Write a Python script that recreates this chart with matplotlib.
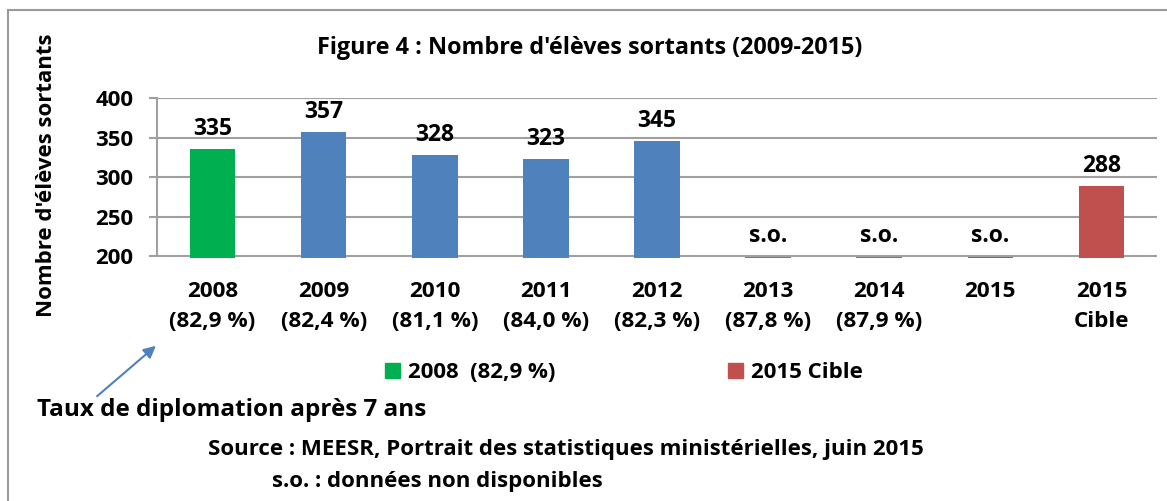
import matplotlib
matplotlib.use('Agg')
import matplotlib.pyplot as plt
from matplotlib.patches import Patch, Rectangle, FancyArrowPatch

# chart data
categories = ['2008\n(82,9 %)', '2009\n(82,4 %)', '2010\n(81,1 %)', '2011\n(84,0 %)',
              '2012\n(82,3 %)', '2013\n(87,8 %)', '2014\n(87,9 %)', '2015', '2015\nCible']
values = [335, 357, 328, 323, 345, 199, 199, 199, 288]
value_labels = ['335', '357', '328', '323', '345', 's.o.', 's.o.', 's.o.', '288']
legend_labels = ['2008  (82,9 %)', '2015 Cible']

green = '#00B050'
blue = '#4F81BD'
red = '#C0504D'
bar_colors = [green, blue, blue, blue, blue, blue, blue, red, red]

plt.rcParams['font.family'] = ['Open Sans', 'DejaVu Sans']
plt.rcParams['font.weight'] = 'bold'

W, H = 1167, 501
fig = plt.figure(figsize=(W / 100, H / 100), dpi=100)


def px(x, y):
    return x / W, 1 - y / H


# outer frame of the chart
fig.patches.append(Rectangle(px(8, 520), 1.2, (520 - 10) / H, transform=fig.transFigure,
                             fill=False, edgecolor='#9A9A9A', linewidth=1.5))

ax = fig.add_axes([157 / W, (H - 258.4) / H, 1000 / W, (258.4 - 98) / H])
x = list(range(len(categories)))
ax.bar(x, values, width=0.41, color=bar_colors, zorder=3)
ax.set_xlim(-0.5, len(categories) - 0.5)
ax.set_ylim(197, 400)

# value labels
for xi, v, lab in zip(x, values, value_labels):
    ax.annotate(lab, (xi, max(v, 200)), xytext=(0, 6), textcoords='offset points',
                ha='center', va='bottom', fontsize=16.5, fontweight='bold', zorder=4)

# grid and axes
for yv in [200, 250, 300, 350, 400]:
    ax.axhline(yv, color='#A0A0A0', linewidth=1.5, zorder=2)
for s in ['top', 'right', 'bottom']:
    ax.spines[s].set_visible(False)
ax.spines['left'].set_bounds(200, 400)
ax.spines['left'].set_color('#A0A0A0')
ax.spines['left'].set_linewidth(1.5)
ax.set_yticks([200, 250, 300, 350, 400])
ax.tick_params(axis='y', length=6, color='#A0A0A0', width=1.5, labelsize=16, pad=11)
ax.set_xticks(x)
ax.set_xticklabels(categories, fontsize=16.2, fontweight='bold', linespacing=1.6)
ax.tick_params(axis='x', length=0, pad=16)

ax.set_ylabel("Nombre d'élèves sortants", fontsize=16, fontweight='bold')
ax.yaxis.set_label_coords(-0.1, 0.52)

fig.text(*px(590, 48), "Figure 4 : Nombre d'élèves sortants (2009-2015)",
         ha='center', va='center', fontsize=16.8, fontweight='bold')

# legend
handles = [Patch(color=green), Patch(color=red)]
fig.legend(handles, legend_labels, loc='center', bbox_to_anchor=px(624, 373), ncol=2,
           frameon=False, fontsize=16, handlelength=0.65, handleheight=0.65,
           handletextpad=0.36, columnspacing=7.8)

# annotation arrow
fig.add_artist(FancyArrowPatch(
    px(95, 398), px(158, 344), transform=fig.transFigure, arrowstyle='-|>',
    mutation_scale=18, color=blue, linewidth=1.5))
fig.text(*px(37, 410), 'Taux de diplomation après 7 ans', ha='left', va='center',
         fontsize=17.5, fontweight='bold')

fig.text(*px(566, 450), 'Source : MEESR, Portrait des statistiques ministérielles, juin 2015',
         ha='center', va='center', fontsize=16, fontweight='bold')
fig.text(*px(272, 481), 's.o. : données non disponibles', ha='left', va='center',
         fontsize=16, fontweight='bold')

fig.savefig('out.png', dpi=100, facecolor='white')
